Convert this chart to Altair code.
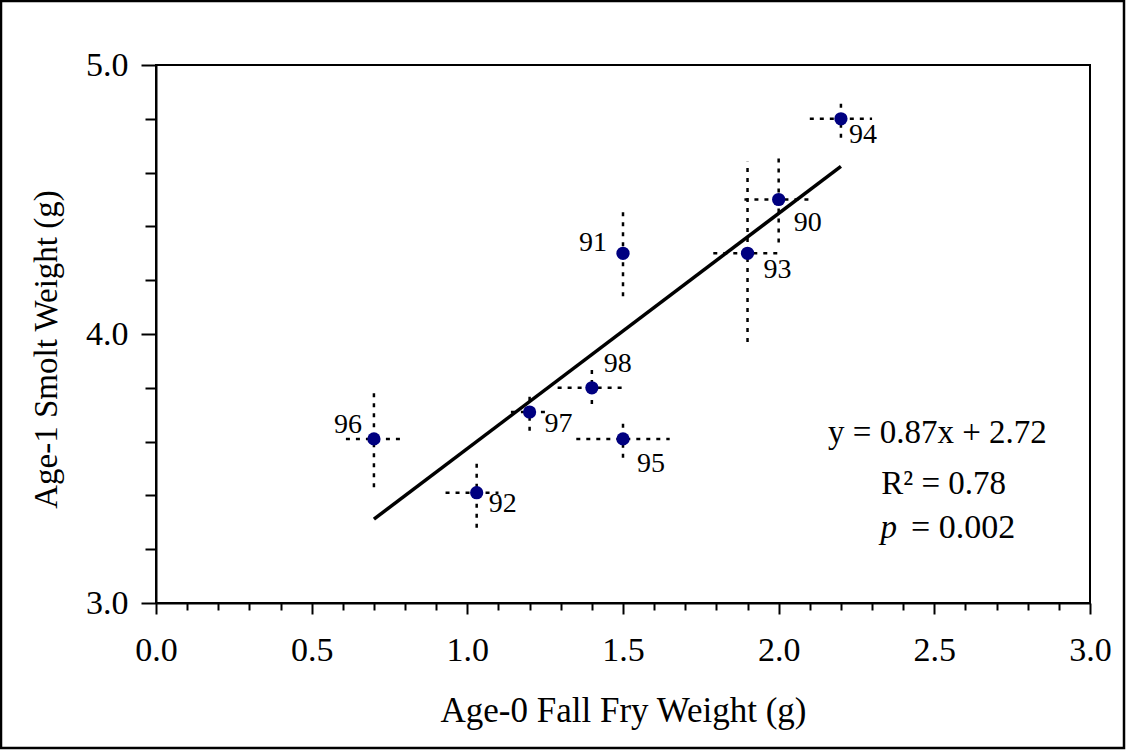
import altair as alt
import pandas as pd

# Survey years and mean weights (g): age-0 fall fry vs. age-1 smolts
years = ["90", "91", "92", "93", "94", "95", "96", "97", "98"]
fry_wt = [2.00, 1.50, 1.03, 1.90, 2.20, 1.50, 0.70, 1.20, 1.40]
smolt_wt = [4.50, 4.30, 3.41, 4.30, 4.80, 3.61, 3.61, 3.71, 3.80]

# Confidence limits for each year
fry_lo = [1.89, 1.50, 0.93, 1.79, 2.10, 1.35, 0.61, 1.14, 1.29]
fry_hi = [2.10, 1.50, 1.10, 2.00, 2.30, 1.65, 0.79, 1.26, 1.50]
smolt_lo = [4.34, 4.14, 3.28, 3.97, 4.73, 3.54, 3.43, 3.64, 3.74]
smolt_hi = [4.66, 4.46, 3.52, 4.64, 4.86, 3.67, 3.78, 3.77, 3.87]

# Regression summary text
eq_text = ["y = 0.87x + 2.72", "R\u00b2 = 0.78"]
eq_x = [2.51, 2.53]
eq_y = [3.595, 3.405]
p_symbol, p_value = "p", "= 0.002"
p_x_sym, p_x_val, p_y = 2.38, 2.425, 3.242

# Tick values
x_ticks = [round(i * 0.1, 1) for i in range(31)]
y_ticks = [round(3 + i * 0.2, 1) for i in range(11)]

# Year label placement (pixel offsets from each point)
label_offsets = {
    "90": (29, 23), "91": (-30, -10), "92": (26, 11),
    "93": (30, 17), "94": (22, 16), "95": (28, 25),
    "96": (-26, -14), "97": (29, 12), "98": (26, -24),
}

FONT = "Liberation Serif"
W, H = 934, 538

df = pd.DataFrame({
    "year": years, "fry": fry_wt, "smolt": smolt_wt,
    "fry_lo": fry_lo, "fry_hi": fry_hi,
    "smolt_lo": smolt_lo, "smolt_hi": smolt_hi,
})

x_scale = alt.Scale(domain=[0, 3], nice=False, zero=False)
y_scale = alt.Scale(domain=[3, 5], nice=False, zero=False)

x_axis = alt.Axis(
    values=x_ticks,
    labelExpr="abs(datum.value*2 - round(datum.value*2)) < 0.001 ? format(datum.value, '.1f') : ''",
    tickSize={"condition": {"test": "abs(datum.value*2 - round(datum.value*2)) < 0.001", "value": 11}, "value": 7},
    labelPadding=19, labelFlush=False, labelOverlap=False, labelBound=False,
    title="Age-0 Fall Fry Weight (g)", titlePadding=26, titleFontSize=35, grid=False,
)
y_axis = alt.Axis(
    values=y_ticks,
    labelExpr="abs(datum.value - round(datum.value)) < 0.001 ? format(datum.value, '.1f') : ''",
    tickSize={"condition": {"test": "abs(datum.value - round(datum.value)) < 0.001", "value": 15}, "value": 11},
    labelPadding=13, labelFlush=False, labelOverlap=False, labelBound=False,
    title="Age-1 Smolt Weight (g)", titlePadding=22, titleFontSize=33, titleY=284, grid=False,
)

base = alt.Chart(df)

x_enc = alt.X("fry:Q", scale=x_scale, axis=x_axis)
y_enc = alt.Y("smolt:Q", scale=y_scale, axis=y_axis)

dash = [4, 6]
h_bars = base.mark_rule(color="black", strokeWidth=2.5, strokeDash=dash).encode(
    x=alt.X("fry_lo:Q", scale=x_scale, axis=x_axis), x2="fry_hi:Q", y=y_enc
)
v_bars = base.mark_rule(color="black", strokeWidth=2.5, strokeDash=dash).encode(
    x=x_enc, y=alt.Y("smolt_lo:Q", scale=y_scale, axis=y_axis), y2="smolt_hi:Q"
)

fit = base.transform_regression("fry", "smolt").mark_line(
    color="black", strokeWidth=3.5
).encode(x=x_enc, y=y_enc)

points = base.mark_circle(size=175, color="#000080", opacity=1).encode(x=x_enc, y=y_enc)

year_labels = [
    base.transform_filter(alt.datum.year == yr).mark_text(
        font=FONT, fontSize=28, color="black", align="center", baseline="middle",
        dx=dx, dy=dy,
    ).encode(x=x_enc, y=y_enc, text="year:N")
    for yr, (dx, dy) in label_offsets.items()
]

eq_df = pd.DataFrame({"text": eq_text, "x": eq_x, "y": eq_y})
eq_marks = alt.Chart(eq_df).mark_text(
    font=FONT, fontSize=33, color="black", align="center", baseline="alphabetic"
).encode(
    x=alt.X("x:Q", scale=x_scale, axis=x_axis),
    y=alt.Y("y:Q", scale=y_scale, axis=y_axis),
    text="text:N",
)

p_df = pd.DataFrame({"sym": [p_symbol], "val": [p_value],
                     "xs": [p_x_sym], "xv": [p_x_val], "y": [p_y]})
p_sym = alt.Chart(p_df).mark_text(
    font=FONT, fontSize=33, fontStyle="italic", color="black",
    align="right", baseline="alphabetic",
).encode(
    x=alt.X("xs:Q", scale=x_scale, axis=x_axis),
    y=alt.Y("y:Q", scale=y_scale, axis=y_axis),
    text="sym:N",
)
p_val = alt.Chart(p_df).mark_text(
    font=FONT, fontSize=34, color="black", align="left", baseline="alphabetic",
).encode(
    x=alt.X("xv:Q", scale=x_scale, axis=x_axis),
    y=alt.Y("y:Q", scale=y_scale, axis=y_axis),
    text="val:N",
)

# Border around the whole figure
frame = alt.Chart(pd.DataFrame({"k": [0]})).mark_rect(
    fillOpacity=0, stroke="black", strokeWidth=2.5
).encode(
    x=alt.value(-155), x2=alt.value(W + 34),
    y=alt.value(-64), y2=alt.value(H + 145),
)

chart = alt.layer(
    frame, h_bars, v_bars, fit, points, *year_labels, eq_marks, p_sym, p_val
).properties(
    width=W, height=H,
    autosize=alt.AutoSizeParams(type="none"),
    padding={"left": 156, "top": 65, "right": 36, "bottom": 147},
).configure(
    font=FONT, background="white",
).configure_view(
    stroke="black", strokeWidth=2,
).configure_axis(
    domainColor="black", domainWidth=2, tickColor="black", tickWidth=2,
    labelFont=FONT, labelFontSize=34, labelColor="black",
    titleFont=FONT, titleFontSize=32, titleFontWeight="normal", titleColor="black",
)

chart.save("out.html", embed_options={"renderer": "svg", "actions": False})
